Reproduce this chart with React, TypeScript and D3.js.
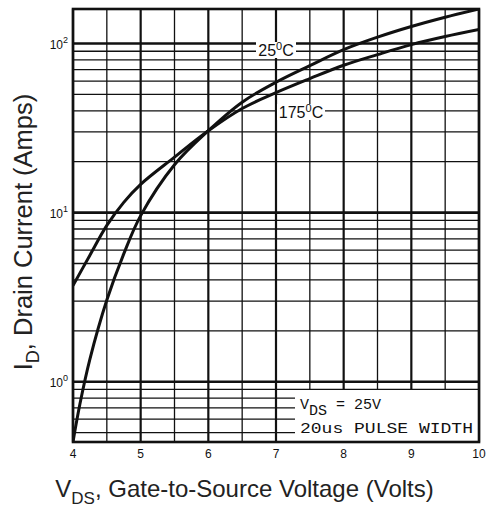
import { useRef, useEffect } from "react";
import * as d3 from "d3";

// gate voltage samples for each curve
const VGS_25C = [4, 4.1, 4.25, 4.5, 4.75, 5, 5.5, 6, 6.5, 7, 7.5, 8, 8.5, 9, 9.5, 10];
const ID_25C = [0.44, 0.73, 1.36, 3.04, 5.7, 9.6, 19.2, 30.5, 45, 59, 74, 92, 109, 126, 143, 160];

const VGS_175C = [4, 4.25, 4.5, 4.75, 5, 5.5, 6, 6.5, 7, 7.5, 8, 8.5, 9, 9.5, 10];
const ID_175C = [3.7, 5.6, 8.4, 11.5, 14.7, 21.3, 30.5, 41.3, 51.2, 62, 74.4, 86, 98.5, 110, 121];

const X_TICKS = [4, 5, 6, 7, 8, 9, 10];
const Y_DECADES = [0, 1, 2];

const W = 487;
const H = 529;
const margin = { top: 9, right: 8, bottom: 87, left: 73 };

export default function App() {
  const svgRef = useRef<SVGSVGElement | null>(null);

  useEffect(() => {
    if (!svgRef.current) return;
    const svg = d3.select(svgRef.current);
    svg.selectAll("*").remove();

    const x = d3.scaleLinear().domain([4, 10]).range([margin.left, W - margin.right]);
    const y = d3.scaleLog().domain([0.44, 160]).range([H - margin.bottom, margin.top]);
    const [x0, x1] = x.range();
    const [y0, y1] = y.range();

    const g = svg.append("g");

    // vertical grid: integers heavy, half volts light
    d3.range(4, 10.01, 0.5).forEach((v) => {
      const major = Math.abs(v - Math.round(v)) < 1e-6;
      g.append("line")
        .attr("x1", x(v))
        .attr("x2", x(v))
        .attr("y1", y1)
        .attr("y2", y0)
        .attr("stroke", "#111")
        .attr("stroke-width", major ? 2.2 : 1.3);
    });

    // horizontal log grid
    const hvals: number[] = [];
    [-1, 0, 1, 2].forEach((d) => {
      for (let k = 1; k <= 9; k++) {
        const val = k * Math.pow(10, d);
        if (val >= 0.44 && val <= 160) hvals.push(val);
      }
    });
    hvals.forEach((val) => {
      const major = Y_DECADES.some((d) => Math.abs(val - Math.pow(10, d)) < 1e-9);
      g.append("line")
        .attr("x1", x0)
        .attr("x2", x1)
        .attr("y1", y(val))
        .attr("y2", y(val))
        .attr("stroke", "#111")
        .attr("stroke-width", major ? 2.6 : 1.3);
    });

    // clip for curves
    svg
      .append("clipPath")
      .attr("id", "plot-clip")
      .append("rect")
      .attr("x", x0)
      .attr("y", y1)
      .attr("width", x1 - x0)
      .attr("height", y0 - y1);

    const line = d3
      .line<[number, number]>()
      .x((d) => x(d[0]))
      .y((d) => y(d[1]))
      .curve(d3.curveCatmullRom.alpha(0.5));

    const curves: [number[], number[]][] = [
      [VGS_25C, ID_25C],
      [VGS_175C, ID_175C],
    ];
    curves.forEach(([vs, is]) => {
      g.append("path")
        .attr("d", line(vs.map((v, i) => [v, is[i]] as [number, number])))
        .attr("fill", "none")
        .attr("stroke", "#111")
        .attr("stroke-width", 3)
        .attr("clip-path", "url(#plot-clip)");
    });

    // note box in lower right
    g.append("rect")
      .attr("x", 295)
      .attr("y", 390)
      .attr("width", x1 - 295 - 1)
      .attr("height", y0 - 390 - 1)
      .attr("fill", "white");

    const mono = "'Liberation Mono', 'DejaVu Sans Mono', monospace";
    const vds = g
      .append("text")
      .attr("x", 300)
      .attr("y", 409)
      .attr("font-family", mono)
      .attr("font-size", 15)
      .attr("fill", "#111");
    vds.append("tspan").text("V");
    vds.append("tspan").attr("dy", 6).text("DS");
    vds.append("tspan").attr("dy", -6).text(" = 25V");

    g.append("text")
      .attr("x", 300)
      .attr("y", 433)
      .attr("font-family", mono)
      .attr("font-size", 15)
      .attr("textLength", 173)
      .attr("lengthAdjust", "spacingAndGlyphs")
      .attr("fill", "#111")
      .text("20us PULSE WIDTH");

    // temperature labels with white backing
    const sans = "'Liberation Sans', Arial, sans-serif";
    const tempLabel = (cx: number, cy: number, w: number, main: string) => {
      g.append("rect")
        .attr("x", cx - w / 2)
        .attr("y", cy - 8)
        .attr("width", w)
        .attr("height", 16)
        .attr("fill", "white");
      const t = g
        .append("text")
        .attr("x", cx)
        .attr("y", cy + 6)
        .attr("text-anchor", "middle")
        .attr("font-family", sans)
        .attr("font-size", 16)
        .attr("fill", "#111");
      t.append("tspan").text(main);
      t.append("tspan").attr("dy", -6).attr("font-size", 11).text("0");
      t.append("tspan").attr("dy", 6).text("C");
    };
    tempLabel(276, 50, 40, "25");
    tempLabel(301, 112, 48, "175");

    // frame
    g.append("rect")
      .attr("x", x0)
      .attr("y", y1)
      .attr("width", x1 - x0)
      .attr("height", y0 - y1)
      .attr("fill", "none")
      .attr("stroke", "#111")
      .attr("stroke-width", 2.6);

    // x tick labels
    X_TICKS.forEach((v) => {
      g.append("text")
        .attr("x", x(v))
        .attr("y", y0 + 16)
        .attr("text-anchor", "middle")
        .attr("font-family", sans)
        .attr("font-size", 12)
        .attr("fill", "#111")
        .text(v);
    });

    // y tick labels 10^n
    Y_DECADES.forEach((d) => {
      const t = g
        .append("text")
        .attr("x", 68)
        .attr("y", y(Math.pow(10, d)) + 5)
        .attr("text-anchor", "end")
        .attr("font-family", sans)
        .attr("font-size", 12)
        .attr("fill", "#111");
      t.append("tspan").text("10");
      t.append("tspan").attr("dy", -6).attr("font-size", 9).text(String(d));
    });

    // axis titles
    const xt = svg
      .append("text")
      .attr("x", 244.5)
      .attr("y", 497)
      .attr("text-anchor", "middle")
      .attr("font-family", sans)
      .attr("font-size", 24)
      .attr("fill", "#222");
    xt.append("tspan").text("V");
    xt.append("tspan").attr("dy", 7).attr("font-size", 17).text("DS");
    xt.append("tspan").attr("dy", -7).text(", Gate-to-Source Voltage (Volts)");

    const yt = svg
      .append("text")
      .attr("transform", "translate(32,232) rotate(-90)")
      .attr("text-anchor", "middle")
      .attr("font-family", sans)
      .attr("font-size", 25.5)
      .attr("fill", "#222");
    yt.append("tspan").text("I");
    yt.append("tspan").attr("dy", 7).attr("font-size", 18).text("D");
    yt.append("tspan").attr("dy", -7).text(", Drain Current (Amps)");
  }, []);

  return (
    <svg
      ref={svgRef}
      width={W}
      height={H}
      style={{ position: "absolute", left: 0, top: 0, background: "white" }}
    ></svg>
  );
}
